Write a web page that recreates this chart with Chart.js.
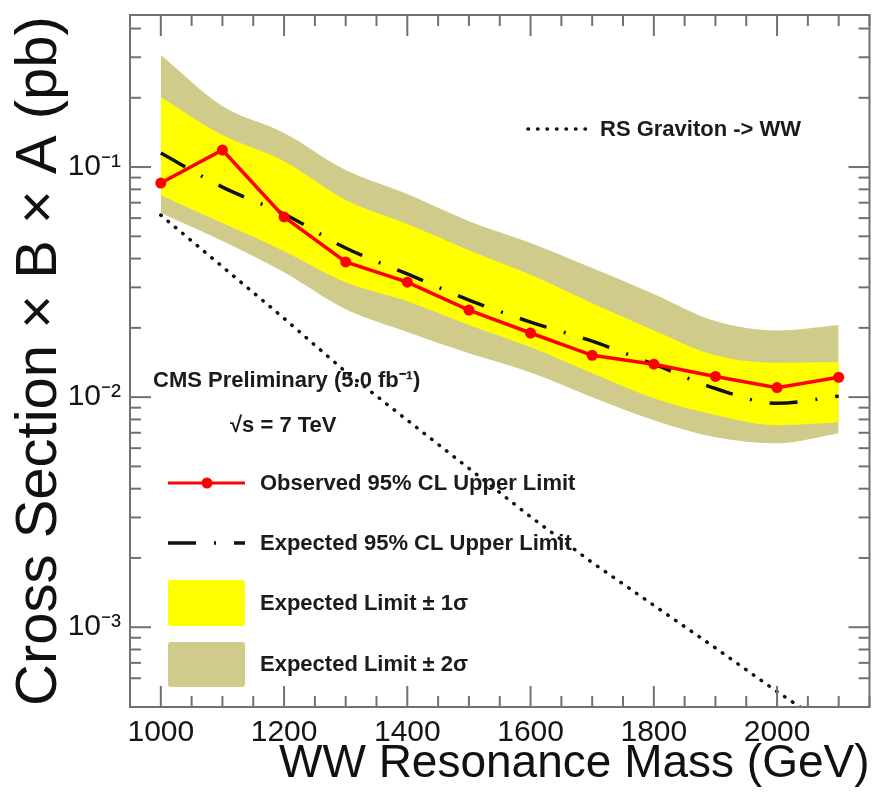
<!DOCTYPE html>
<html>
<head>
<meta charset="utf-8">
<script src="https://cdn.jsdelivr.net/npm/chart.js@4.4.1/dist/chart.umd.min.js"></script>
<style>
  html, body { margin: 0; padding: 0; background: #fff; }
  .chart-wrap { position: relative; width: 875px; height: 801px; }
</style>
</head>
<body>
<div class="chart-wrap"><canvas id="limitChart"></canvas></div>
<script>
// WW resonance mass points (GeV)
const masses = [1000, 1100, 1200, 1300, 1400, 1500, 1600, 1700, 1800, 1900, 2000, 2100];
// cross section x B x A (pb)
const observed     = [0.0852, 0.1186, 0.0607, 0.0387, 0.0316, 0.0239, 0.0190, 0.0152, 0.0139, 0.0123, 0.0110, 0.0122];
const expected     = [0.115, 0.0818, 0.0625, 0.0445, 0.0343, 0.0264, 0.0212, 0.0175, 0.0139, 0.0109, 0.0094, 0.0101];
const oneSigmaUp   = [0.201, 0.1377, 0.106, 0.0719, 0.0565, 0.0435, 0.0340, 0.0256, 0.0195, 0.0152, 0.0141, 0.0142];
const oneSigmaDown = [0.0755, 0.0571, 0.0431, 0.0316, 0.0261, 0.0206, 0.0165, 0.0127, 0.0099, 0.00836, 0.00755, 0.00778];
const twoSigmaUp   = [0.307, 0.184, 0.1406, 0.097, 0.0763, 0.0582, 0.0468, 0.0364, 0.0281, 0.0214, 0.0195, 0.0206];
const twoSigmaDown = [0.0631, 0.0477, 0.0349, 0.0241, 0.0192, 0.0155, 0.0128, 0.0100, 0.00794, 0.0067, 0.0063, 0.00697];
const graviton     = [0.0618, 0.0369, 0.0220, 0.01288, 0.00794, 0.0049, 0.00302, 0.00191, 0.001245, 0.000813, 0.000525, 0.000347];

const xMin = 950, xMax = 2150;
const yMin = 4.5e-4, yMax = 0.458;
const decadeLabels = { '-1': '10⁻¹', '-2': '10⁻²', '-3': '10⁻³' };

const fontSans = "'Liberation Sans', Arial, Helvetica, sans-serif";
const yellow = '#ffff00', tan = '#d1cb8b', red = '#ff0000';
const expectedDash = [28, 18, 2, 18];
const dotDash = [0.5, 9];

const pts = vals => masses.map((m, i) => ({ x: m, y: vals[i] }));

// ROOT style frame with inward ticks on all four sides
const frameTicks = {
  id: 'frameTicks',
  afterDatasetsDraw(chart) {
    const { ctx, chartArea: a, scales: { x, y } } = chart;
    ctx.save();
    ctx.strokeStyle = '#707070';
    ctx.lineWidth = 2;
    const seg = (x1, y1, x2, y2) => { ctx.beginPath(); ctx.moveTo(x1, y1); ctx.lineTo(x2, y2); ctx.stroke(); };
    x.ticks.forEach(t => {
      if (t.value % 50 !== 0) return;
      const px = x.getPixelForValue(t.value);
      const len = t.value % 200 === 0 ? 21 : 11;
      seg(px, a.bottom, px, a.bottom - len);
      seg(px, a.top, px, a.top + len);
    });
    y.ticks.forEach(t => {
      const e = Math.floor(Math.log10(t.value) + 1e-9);
      const m = t.value / Math.pow(10, e);
      if (Math.abs(m - Math.round(m)) > 1e-6) return;
      const py = y.getPixelForValue(t.value);
      const len = Math.round(m) === 1 ? 21 : 11;
      seg(a.left, py, a.left + len, py);
      seg(a.right, py, a.right - len, py);
    });
    ctx.strokeRect(a.left, a.top, a.width, a.height);
    ctx.restore();
  }
};

const legendBox = {
  id: 'legendBox',
  afterDraw(chart) {
    const { ctx } = chart;
    ctx.save();
    ctx.font = `bold 22px ${fontSans}`;
    ctx.fillStyle = '#1b1b1b';
    ctx.textBaseline = 'middle';
    const line = (x1, x2, yy, color, width, dash, cap) => {
      ctx.save();
      ctx.strokeStyle = color; ctx.lineWidth = width; ctx.setLineDash(dash); ctx.lineCap = cap || 'butt';
      ctx.beginPath(); ctx.moveTo(x1, yy); ctx.lineTo(x2, yy); ctx.stroke();
      ctx.restore();
    };
    // graviton
    line(528, 590, 129, '#111', 3.5, dotDash, 'round');
    ctx.fillText('RS Graviton -> WW', 600, 130);
    // labels
    ctx.fillText('CMS Preliminary (5.0 fb⁻¹)', 153, 381);
    ctx.fillText('√s = 7 TeV', 230, 426);
    // observed
    line(168, 245, 483, red, 3, []);
    ctx.beginPath(); ctx.fillStyle = red; ctx.arc(207, 483, 5.5, 0, Math.PI * 2); ctx.fill();
    ctx.fillStyle = '#1b1b1b';
    ctx.fillText('Observed 95% CL Upper Limit', 260, 484);
    // expected
    line(168, 245, 543, '#111', 3.5, expectedDash);
    ctx.fillText('Expected 95% CL Upper Limit', 260, 544);
    // bands
    ctx.fillStyle = yellow;
    ctx.beginPath(); ctx.roundRect(168, 580, 77, 46, 3); ctx.fill();
    ctx.fillStyle = tan;
    ctx.beginPath(); ctx.roundRect(168, 642, 77, 45, 3); ctx.fill();
    ctx.fillStyle = '#1b1b1b';
    ctx.fillText('Expected Limit ± 1σ', 260, 604);
    ctx.fillText('Expected Limit ± 2σ', 260, 665);
    ctx.restore();
  }
};

new Chart(document.getElementById('limitChart'), {
  type: 'line',
  data: {
    datasets: [
      { label: 'Observed 95% CL Upper Limit', data: pts(observed), borderColor: red, backgroundColor: red,
        borderWidth: 3.5, pointRadius: 5.5, pointBackgroundColor: red, pointBorderWidth: 0, tension: 0, fill: false },
      { label: 'Expected 95% CL Upper Limit', data: pts(expected), borderColor: '#111', borderWidth: 3.5,
        borderDash: expectedDash, pointRadius: 0, cubicInterpolationMode: 'monotone', fill: false },
      { label: 'RS Graviton -> WW', data: pts(graviton), borderColor: '#111', borderWidth: 3.5,
        borderDash: dotDash, borderCapStyle: 'round', pointRadius: 0, tension: 0, fill: false },
      { label: 'Expected Limit ± 1σ', data: pts(oneSigmaUp), borderWidth: 0, pointRadius: 0,
        backgroundColor: yellow, cubicInterpolationMode: 'monotone', fill: '+1' },
      { label: '1σ low', data: pts(oneSigmaDown), borderWidth: 0, pointRadius: 0,
        cubicInterpolationMode: 'monotone', fill: false },
      { label: 'Expected Limit ± 2σ', data: pts(twoSigmaUp), borderWidth: 0, pointRadius: 0,
        backgroundColor: tan, cubicInterpolationMode: 'monotone', fill: '+1' },
      { label: '2σ low', data: pts(twoSigmaDown), borderWidth: 0, pointRadius: 0,
        cubicInterpolationMode: 'monotone', fill: false }
    ]
  },
  options: {
    responsive: true, maintainAspectRatio: false,
    animation: false,
    events: [],
    layout: { padding: { top: 15, right: 3, left: 0, bottom: 0 } },
    plugins: { legend: { display: false }, tooltip: { enabled: false } },
    scales: {
      x: {
        type: 'linear', min: xMin, max: xMax,
        afterFit: s => { s.height = 94; s.paddingLeft = 0; s.paddingRight = 0; },
        grid: { display: false, drawTicks: false },
        border: { display: false },
        ticks: {
          stepSize: 50, autoSkip: false, maxRotation: 0, padding: 8,
          color: '#151515', font: { family: fontSans, size: 30 },
          callback: v => (v % 200 === 0 ? String(v) : '')
        },
        title: {
          display: true, text: 'WW Resonance Mass (GeV)', align: 'end', color: '#111',
          font: { family: fontSans, size: 46, lineHeight: 1 }, padding: { top: 0, bottom: 14 }
        }
      },
      y: {
        type: 'logarithmic', min: yMin, max: yMax,
        afterFit: s => { s.width = 130; s.paddingTop = 0; s.paddingBottom = 0; },
        grid: { display: false, drawTicks: false },
        border: { display: false },
        ticks: {
          autoSkip: false, padding: 9,
          color: '#151515', font: { family: fontSans, size: 30 },
          callback: v => {
            const e = Math.log10(v);
            return Math.abs(e - Math.round(e)) < 1e-6 ? (decadeLabels[String(Math.round(e))] || '') : '';
          }
        },
        title: {
          display: true, text: 'Cross Section × B × A (pb)', color: '#111',
          font: { family: fontSans, size: 58, lineHeight: 1 }, padding: { top: 11, bottom: 0 }
        }
      }
    }
  },
  plugins: [frameTicks, legendBox]
});
</script>
</body>
</html>
